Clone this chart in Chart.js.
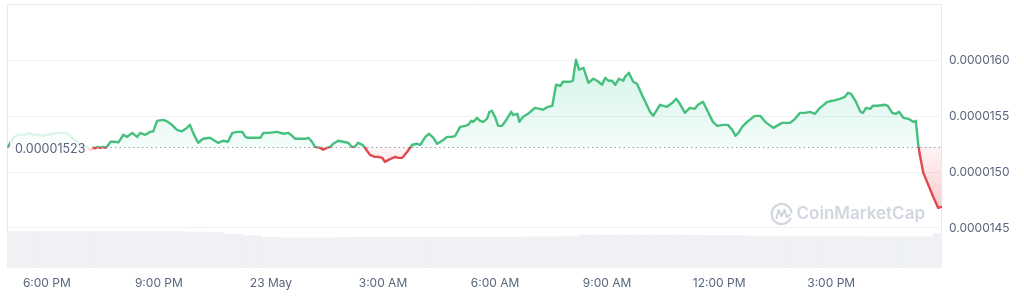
<!DOCTYPE html>
<html><head><meta charset="utf-8">
<script src="https://cdn.jsdelivr.net/npm/chart.js@4.4.1/dist/chart.umd.min.js"></script>
<style>html,body{margin:0;padding:0;background:#fff;}#wrap{width:1024px;height:303px;position:relative;}</style>
</head><body><div id="wrap"><canvas id="c"></canvas></div>
<script>
// time in minutes relative to 22 May 6:00 PM
const priceMinutes = [
 -62,-54,-46,-37,-32,-27,-22,-16,-8,1,
 9,17,25,31,36,42,50,60,66,70,
 74,78,81,86,90,95,99,102,108,115,
 123,129,137,145,150,158,166,171,177,187,
 193,201,209,217,225,230,235,243,251,262,
 267,275,283,291,298,306,314,319,323,331,
 343,348,356,370,380,388,394,399,407,415,
 420,426,431,439,444,450,455,460,468,476,
 484,490,495,500,507,511,519,527,532,539,
 543,552,560,564,571,579,587,595,600,608,
 614,621,627,635,643,651,656,664,672,677,
 682,685,691,696,701,707,711,715,720,725,
 731,736,746,749,756,759,765,773,784,792,
 797,805,812,818,825,829,841,845,850,855,
 862,870,878,884,892,897,902,908,913,919,
 926,929,935,942,948,956,969,974,980,985,
 996,1005,1011,1017,1025,1033,1041,1046,1054,1062,
 1070,1077,1086,1094,1101,1106,1111,1117,1125,1133,
 1138,1146,1154,1167,1181,1194,1202,1210,1218,1226,
 1234,1242,1254,1262,1274,1282,1287,1292,1299,1307,
 1311,1316,1323,1327,1335,1347,1351,1358,1364,1369,
 1376,1384,1392,1396,1400,1403,1408,1416,1424,1432,
 1437
];
// price in units of 1e-7 USD
const pricesE7 = [
 152.30,153.09,153.36,153.36,153.45,153.49,153.36,153.36,153.27,153.36,
 153.45,153.53,153.53,153.53,153.36,153.00,152.64,152.37,152.19,151.96,
 152.23,152.14,152.28,152.19,152.28,152.19,152.46,152.73,152.73,152.68,
 153.36,153.17,153.53,153.17,153.53,153.36,153.62,153.67,154.61,154.70,
 154.57,154.25,153.80,153.67,153.98,154.25,153.53,152.64,153.00,153.09,
 152.91,152.64,152.82,152.73,153.53,153.62,153.62,153.17,153.09,153.09,
 153.09,153.53,153.53,153.62,153.45,153.53,153.27,153.00,153.00,153.00,
 153.09,152.73,152.28,152.19,152.01,152.19,152.28,152.55,152.82,152.73,
 152.64,152.28,152.28,152.64,152.46,152.19,151.56,151.38,151.38,151.29,
 150.93,151.20,151.38,151.29,151.29,151.83,152.46,152.55,152.46,153.17,
 153.45,153.09,152.55,152.82,153.17,153.17,153.27,154.07,154.16,154.25,
 154.61,154.52,154.88,154.61,154.52,154.79,155.42,155.51,154.97,154.16,
 154.16,154.52,155.42,155.15,155.24,154.52,154.97,155.24,155.78,155.69,
 155.60,155.87,155.96,157.85,157.76,158.12,158.12,158.21,160.10,159.20,
 159.38,158.03,158.39,158.21,157.85,158.48,158.21,158.21,157.85,158.39,
 158.21,158.57,158.93,158.12,157.94,156.95,155.42,155.06,155.60,156.05,
 155.87,156.23,156.59,156.14,155.33,155.78,155.69,156.05,156.32,155.42,
 154.52,154.16,154.25,154.25,153.80,153.27,153.53,154.07,154.52,154.88,
 155.06,155.06,154.52,153.98,154.43,154.43,154.79,155.33,155.33,155.42,
 155.24,155.78,156.32,156.41,156.59,156.77,157.13,157.04,156.41,155.42,
 155.33,155.78,155.69,155.96,155.96,156.05,155.96,155.33,155.24,155.42,
 154.88,154.79,154.52,154.61,152.37,151.38,149.94,148.86,147.78,146.79,
 146.88
];
const basePriceE7 = 152.3;   // 0.00001523 opening price
const PRICE_UNIT = 1e-7;

// volume (relative index) every 30 minutes
const volumeMinutes = [
 -60,-30,0,30,60,90,120,150,180,210,240,270,300,330,360,390,420,450,480,510,
 540,570,600,630,660,690,720,750,780,810,840,870,900,930,960,990,1020,1050,1080,1110,
 1140,1170,1200,1230,1260,1290,1320,1350,1380,1410,1440
];
const volumeRel = [
 100,100,100,100,100,100,100,100,100,100,99,98,93,89,85,83,83,83,84,85,
 85,85,85,85,85,85,85,85,86,86,87,91,91,91,91,91,91,90,89,89,
 88,88,88,88,87,87,86,86,86,86,96
];

const xTickMinutes = [0,180,360,540,720,900,1080,1260];
const xTickLabels = ['6:00 PM','9:00 PM','23 May','3:00 AM','6:00 AM','9:00 AM','12:00 PM','3:00 PM'];
const yTicksE7 = [145,150,155,160];
const yRangeE7 = [141.4,165.1];
const xRange = [-64,1438];

const GREEN = '#45c07e';
const RED = '#e1474c';
const TEXT = '#58667e';
const basePrice = basePriceE7*PRICE_UNIT;

Chart.defaults.font.family = 'Inter, "Noto Sans", sans-serif';
Chart.defaults.font.size = 12;
Chart.defaults.color = TEXT;

function baseFrac(ch){
  const a = ch.chartArea;
  const py = ch.scales.y.getPixelForValue(basePrice);
  return Math.min(1, Math.max(0, (py - a.top)/(a.bottom - a.top)));
}
function lineColor(c){
  const ch = c.chart, a = ch.chartArea;
  if(!a || !ch.scales.y) return GREEN;
  const f = baseFrac(ch);
  const g = ch.ctx.createLinearGradient(0, a.top, 0, a.bottom);
  g.addColorStop(0, GREEN); g.addColorStop(f, GREEN);
  g.addColorStop(f, RED); g.addColorStop(1, RED);
  return g;
}
function fillColor(c){
  const ch = c.chart, a = ch.chartArea;
  if(!a || !ch.scales.y) return 'rgba(22,199,132,0.1)';
  const f = baseFrac(ch);
  const g = ch.ctx.createLinearGradient(0, a.top, 0, a.bottom);
  g.addColorStop(0, 'rgba(22,199,132,0.28)');
  g.addColorStop(f, 'rgba(22,199,132,0.05)');
  g.addColorStop(f, 'rgba(234,57,67,0.05)');
  g.addColorStop(1, 'rgba(234,57,67,0.45)');
  return g;
}

const framePlugin = {
  id:'frame',
  beforeDatasetsDraw(chart){
    const {ctx, chartArea:a} = chart;
    ctx.save();
    ctx.strokeStyle = '#e6e9ee'; ctx.lineWidth = 1;
    ctx.beginPath();
    ctx.moveTo(a.left+0.5, a.bottom); ctx.lineTo(a.left+0.5, a.top+0.5);
    ctx.lineTo(a.right-0.5, a.top+0.5); ctx.lineTo(a.right-0.5, a.bottom);
    ctx.stroke();
    ctx.restore();
  }
};

const watermarkPlugin = {
  id:'watermark',
  afterDatasetsDraw(chart){
    const {ctx, chartArea:a} = chart;
    ctx.save();
    const col = 'rgba(178,187,202,0.6)';
    ctx.font = '600 17px Inter, "Noto Sans", sans-serif';
    ctx.fillStyle = col; ctx.textAlign = 'right'; ctx.textBaseline = 'middle';
    const tx = a.right - 17, ty = a.bottom - 54;
    ctx.fillText('CoinMarketCap', tx, ty);
    const w = ctx.measureText('CoinMarketCap').width;
    const cx = tx - w - 15, cy = ty;
    ctx.strokeStyle = col; ctx.lineWidth = 2.2; ctx.lineCap='round'; ctx.lineJoin='round';
    ctx.beginPath(); ctx.arc(cx, cy, 10, 0.15*Math.PI, 1.95*Math.PI); ctx.stroke();
    ctx.beginPath();
    ctx.moveTo(cx-5, cy+4); ctx.lineTo(cx-3, cy-4); ctx.lineTo(cx, cy+2); ctx.lineTo(cx+3, cy-4); ctx.lineTo(cx+5, cy+3); ctx.lineTo(cx+8, cy+1);
    ctx.stroke();
    ctx.restore();
  }
};

const baseLinePlugin = {
  id:'baseLine',
  afterDatasetsDraw(chart){
    const {ctx, chartArea:a, scales:{y}} = chart;
    const py = Math.round(y.getPixelForValue(basePrice));
    ctx.save();
    ctx.strokeStyle = '#9aa1ad'; ctx.lineWidth = 1; ctx.setLineDash([1.5,3]);
    ctx.beginPath(); ctx.moveTo(a.left, py+0.5); ctx.lineTo(a.right, py+0.5); ctx.stroke();
    ctx.setLineDash([]);
    ctx.font = '12.5px Inter, "Noto Sans", sans-serif';
    const txt = basePrice.toFixed(8);
    const w = ctx.measureText(txt).width;
    ctx.fillStyle = 'rgba(255,255,255,0.82)';
    ctx.fillRect(a.left+3, py-16, w+12, 32);
    ctx.fillStyle = TEXT; ctx.textBaseline = 'middle'; ctx.textAlign='left';
    ctx.fillText(txt, a.left+8, py+2.5);
    ctx.restore();
  }
};

new Chart(document.getElementById('c'), {
  type:'line',
  data:{
    datasets:[
      {
        type:'line',
        data: priceMinutes.map((m,i)=>({x:m, y:pricesE7[i]*PRICE_UNIT})),
        yAxisID:'y',
        borderColor: lineColor,
        backgroundColor: fillColor,
        borderWidth: 2.4,
        borderJoinStyle:'round',
        borderCapStyle:'round',
        pointRadius: 0,
        tension: 0,
        fill: {target:{value: basePrice}},
        order: 0
      },
      {
        type:'bar',
        data: volumeMinutes.map((m,i)=>({x:m, y:volumeRel[i]})),
        yAxisID:'y2',
        backgroundColor:'#eff1f4',
        borderWidth:0,
        barPercentage:1,
        categoryPercentage:1,
        order: 1
      }
    ]
  },
  options:{
    responsive:true,
    maintainAspectRatio:false,
    animation:false,
    layout:{padding:{top:4,left:7,right:0,bottom:0}},
    plugins:{legend:{display:false}, tooltip:{enabled:false}},
    scales:{
      x:{
        type:'linear', min:xRange[0], max:xRange[1], offset:false,
        grid:{display:false, drawTicks:false, offset:false},
        border:{display:false},
        afterBuildTicks:(s)=>{ s.ticks = xTickMinutes.map(v=>({value:v})); },
        afterFit:(s)=>{ s.height = 35; s.paddingLeft = 0; s.paddingRight = 0; },
        ticks:{
          autoSkip:false, maxRotation:0, padding:8, color:TEXT,
          callback:(v)=>{ const i = xTickMinutes.indexOf(v); return i>=0 ? xTickLabels[i] : ''; }
        }
      },
      y:{
        position:'right',
        min: yRangeE7[0]*PRICE_UNIT, max: yRangeE7[1]*PRICE_UNIT,
        grid:{color:'#eff2f5', drawTicks:false},
        border:{display:false},
        afterBuildTicks:(s)=>{ s.ticks = yTicksE7.map(v=>({value:v*PRICE_UNIT})); },
        afterFit:(s)=>{ s.width = 82; s.paddingTop = 0; s.paddingBottom = 0; },
        ticks:{
          padding:7, color:TEXT,
          callback:(v)=> Number(v).toFixed(7)
        }
      },
      y2:{
        display:false, min:0, max:727
      }
    }
  },
  plugins:[framePlugin, watermarkPlugin, baseLinePlugin]
});
</script>
</body></html>
